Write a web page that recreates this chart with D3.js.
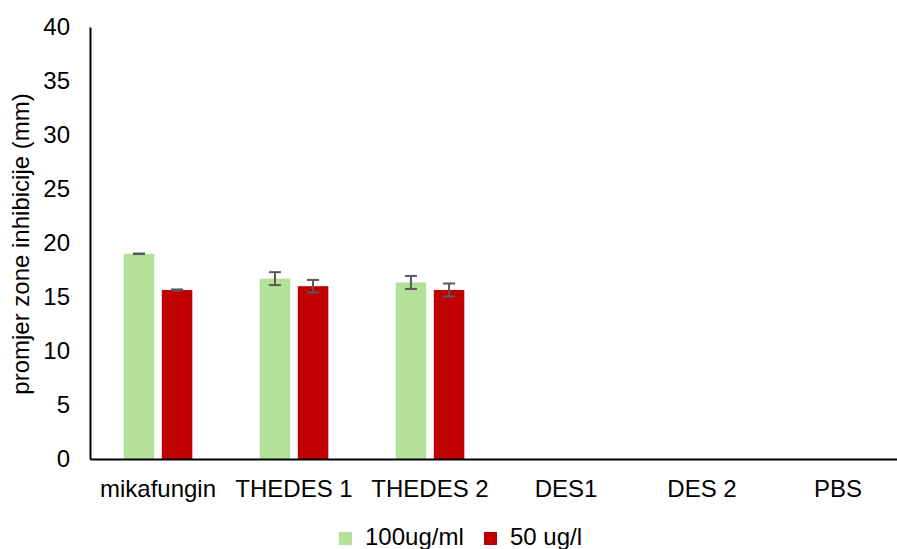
<!DOCTYPE html>
<html>
<head>
<meta charset="utf-8">
<script src="https://d3js.org/d3.v7.min.js"></script>
<style>
  body { margin: 0; background: #fff; }
  svg { font-family: 'Liberation Sans', Arial, sans-serif; }
</style>
</head>
<body>
<div id="chart"></div>
<script>
const categories = ["mikafungin", "THEDES 1", "THEDES 2", "DES1", "DES 2", "PBS"];
const seriesNames = ["100ug/ml", "50 ug/l"];
const values100 = [19.0, 16.7, 16.35, 0, 0, 0];
const err100 = [0.03, 0.6, 0.6, 0, 0, 0];
const values50 = [15.65, 16.0, 15.65, 0, 0, 0];
const err50 = [0.05, 0.58, 0.6, 0, 0, 0];
const yTicks = [0, 5, 10, 15, 20, 25, 30, 35, 40];
const colors = ["#b4e199", "#c00000"];

const W = 897, H = 549;
const m = { left: 90, top: 27, bottom: 90 };
const plotRight = 906; // plot area runs slightly past the picture edge
const FS = 24;

const svg = d3.select("#chart").append("svg").attr("width", W).attr("height", H);

const x = d3.scaleBand().domain(categories).range([m.left, plotRight]);
const y = d3.scaleLinear().domain([0, 40]).range([H - m.bottom, m.top]);

const barW = 30.5, gap = 7.6;
const series = [
  { name: seriesNames[0], vals: values100, errs: err100, off: -gap / 2 - barW },
  { name: seriesNames[1], vals: values50, errs: err50, off: gap / 2 }
];

series.forEach((s, si) => {
  const g = svg.append("g");
  g.selectAll("rect").data(categories).join("rect")
    .attr("x", (c) => x(c) + x.bandwidth() / 2 + s.off)
    .attr("y", (c, i) => y(s.vals[i]))
    .attr("width", barW)
    .attr("height", (c, i) => y(0) - y(s.vals[i]))
    .attr("fill", colors[si]);

  categories.forEach((c, i) => {
    if (s.vals[i] === 0) return;
    const cx = x(c) + x.bandwidth() / 2 + s.off + barW / 2;
    const y1 = y(s.vals[i] + s.errs[i]), y2 = y(s.vals[i] - s.errs[i]);
    g.append("line").attr("x1", cx).attr("x2", cx).attr("y1", y1).attr("y2", y2)
      .attr("stroke", "#595959").attr("stroke-width", 2);
    [y1, y2].forEach(yy => g.append("line")
      .attr("x1", cx - 6).attr("x2", cx + 6).attr("y1", yy).attr("y2", yy)
      .attr("stroke", "#595959").attr("stroke-width", 2));
  });
});

// y axis
const yAxis = svg.append("g").attr("transform", `translate(${m.left},0)`)
  .call(d3.axisLeft(y).tickValues(yTicks).tickSize(0).tickPadding(20));
yAxis.select(".domain").attr("stroke", "#000").attr("stroke-width", 2);
yAxis.selectAll("text").attr("font-size", FS).attr("fill", "#000")
  .attr("font-family", "'Liberation Sans', Arial, sans-serif");

// x axis
const xAxis = svg.append("g").attr("transform", `translate(0,${y(0)})`)
  .call(d3.axisBottom(x).tickSize(0).tickPadding(21));
xAxis.select(".domain").attr("stroke", "#000").attr("stroke-width", 2);
xAxis.selectAll("text").attr("font-size", FS).attr("fill", "#000")
  .attr("font-family", "'Liberation Sans', Arial, sans-serif");

// y title
svg.append("text")
  .attr("transform", `translate(29,244) rotate(-90)`)
  .attr("text-anchor", "middle").attr("font-size", FS).attr("fill", "#000")
  .text("promjer zone inhibicije (mm)");

// legend
const legend = svg.append("g");
const legX = [339, 484];
seriesNames.forEach((n, i) => {
  legend.append("rect").attr("x", legX[i]).attr("y", 532).attr("width", 13).attr("height", 13)
    .attr("fill", colors[i]);
  legend.append("text").attr("x", legX[i] + 26).attr("y", 545)
    .attr("font-size", FS).attr("fill", "#000").text(n);
});
</script>
</body>
</html>
